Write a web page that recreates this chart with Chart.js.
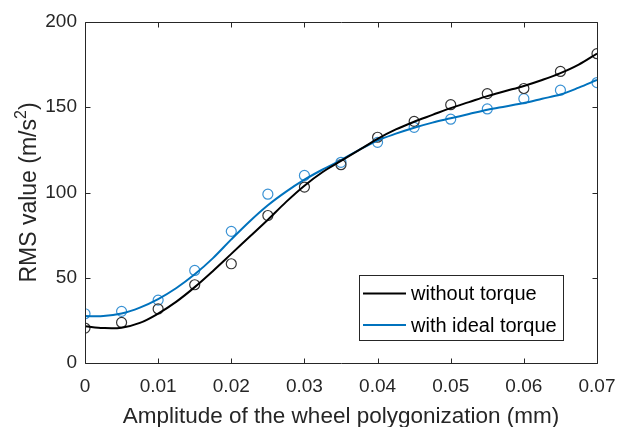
<!DOCTYPE html>
<html>
<head>
<meta charset="utf-8">
<script src="https://cdn.jsdelivr.net/npm/chart.js@4.4.0/dist/chart.umd.min.js"></script>
<style>
  html, body { margin: 0; padding: 0; background: #fff; }
  #wrap { width: 617px; height: 427px; }
</style>
</head>
<body>
<div id="wrap"><canvas id="c" width="617" height="427"></canvas></div>
<script>
// Measured RMS acceleration against polygonization amplitude
const amplitudes = [0, 0.005, 0.01, 0.015, 0.02, 0.025, 0.03, 0.035, 0.04, 0.045, 0.05, 0.055, 0.06, 0.065, 0.07];
const rmsWithoutTorque = [20.5, 23.8, 31.7, 45.9, 58.2, 86.5, 103.2, 116.3, 132.4, 141.7, 151.5, 158, 161, 171, 181.4];
const rmsIdealTorque   = [28.9, 30.3, 36.9, 54.3, 77.2, 99, 110, 117.7, 129.4, 138.2, 143, 149, 155, 160, 164.5];

// Fitted trend curves
const fitAmplitudes = [0, 0.0025, 0.005, 0.0075, 0.01, 0.0125, 0.015, 0.0175, 0.02, 0.0225, 0.025, 0.0275, 0.03, 0.0325, 0.035,
                       0.0375, 0.04, 0.0425, 0.045, 0.0475, 0.05, 0.0525, 0.055, 0.0575, 0.06, 0.0625, 0.065, 0.0675, 0.07];
const fitWithoutTorque = [21.5, 20.5, 20.7, 23.5, 29, 36, 44.5, 54, 64, 74, 84, 94.5, 104, 112, 118.5,
                          125, 131.5, 137, 141.5, 145.5, 149.5, 153, 156.5, 159.5, 162.5, 166, 170, 175, 181.5];
const fitIdealTorque   = [27.5, 27.5, 29, 32.5, 37.5, 44, 52, 61.5, 72.5, 83, 92.5, 100.5, 107.5, 113.5, 119,
                          125, 130.5, 134.5, 138, 141, 143.5, 146, 148.5, 150.5, 152.5, 155, 157.5, 161.5, 166];

const xTicks = [0, 0.01, 0.02, 0.03, 0.04, 0.05, 0.06, 0.07];
const yTicks = [0, 50, 100, 150, 200];
const seriesNames = ['without torque', 'with ideal torque'];
const xTitle = 'Amplitude of the wheel polygonization (mm)';
const yTitle = ['RMS value (m/s', '2', ')'];

const BLACK = '#000000';
const BLUE = '#0072BD';
const TEXT = '#262626';
const FONT = '"Liberation Sans", Arial, Helvetica, sans-serif';

const toPoints = (xs, ys) => xs.map((x, i) => ({ x: x, y: ys[i] }));

// Box frame, inward ticks on all four sides, axis titles and legend
const decorations = {
  id: 'decorations',
  afterDraw(chart) {
    const ctx = chart.ctx;
    const a = chart.chartArea;
    const xs = chart.scales.x, ys = chart.scales.y;
    const L = Math.round(a.left) + 0.5, R = Math.round(a.right) + 0.5;
    const T = Math.round(a.top) + 0.5, B = Math.round(a.bottom) + 0.5;
    const tl = 5;
    ctx.save();
    ctx.strokeStyle = TEXT;
    ctx.lineWidth = 1;
    ctx.beginPath();
    ctx.rect(L, T, R - L, B - T);
    xTicks.forEach(v => {
      const px = Math.round(xs.getPixelForValue(v)) + 0.5;
      ctx.moveTo(px, B); ctx.lineTo(px, B - tl);
      ctx.moveTo(px, T); ctx.lineTo(px, T + tl);
    });
    yTicks.forEach(v => {
      const py = Math.round(ys.getPixelForValue(v)) + 0.5;
      ctx.moveTo(L, py); ctx.lineTo(L + tl, py);
      ctx.moveTo(R, py); ctx.lineTo(R - tl, py);
    });
    ctx.stroke();

    // x axis title
    ctx.fillStyle = TEXT;
    ctx.font = '22.5px ' + FONT;
    ctx.textAlign = 'center';
    ctx.textBaseline = 'alphabetic';
    ctx.fillText(xTitle, (a.left + a.right) / 2, 423);

    // y axis title with superscript
    ctx.save();
    ctx.translate(36, (a.top + a.bottom) / 2);
    ctx.rotate(-Math.PI / 2);
    ctx.font = '23px ' + FONT;
    const w0 = ctx.measureText(yTitle[0]).width;
    const w2 = ctx.measureText(yTitle[2]).width;
    ctx.font = '16px ' + FONT;
    const w1 = ctx.measureText(yTitle[1]).width;
    let x0 = -(w0 + w1 + w2) / 2;
    ctx.textAlign = 'left';
    ctx.font = '23px ' + FONT;
    ctx.fillText(yTitle[0], x0, 0);
    ctx.font = '16px ' + FONT;
    ctx.fillText(yTitle[1], x0 + w0, -10);
    ctx.font = '23px ' + FONT;
    ctx.fillText(yTitle[2], x0 + w0 + w1, 0);
    ctx.restore();

    // legend
    const bx = 359.5, by = 275.5, bw = 204, bh = 65;
    ctx.fillStyle = '#ffffff';
    ctx.fillRect(bx, by, bw, bh);
    ctx.strokeStyle = TEXT;
    ctx.lineWidth = 1;
    ctx.strokeRect(bx, by, bw, bh);
    const rows = [{ c: BLACK, y: 293.5 }, { c: BLUE, y: 325 }];
    ctx.font = '20px ' + FONT;
    ctx.textAlign = 'left';
    ctx.textBaseline = 'middle';
    rows.forEach((r, i) => {
      ctx.strokeStyle = r.c;
      ctx.lineWidth = 2;
      ctx.beginPath();
      ctx.moveTo(363, r.y); ctx.lineTo(406, r.y);
      ctx.stroke();
      ctx.fillStyle = '#000000';
      ctx.fillText(seriesNames[i], 411, r.y + 1);
    });
    ctx.restore();
  }
};

new Chart(document.getElementById('c'), {
  type: 'scatter',
  data: {
    datasets: [
      {
        label: seriesNames[0] + ' (fit)',
        type: 'line',
        data: toPoints(fitAmplitudes, fitWithoutTorque),
        borderColor: BLACK, borderWidth: 2, pointRadius: 0, tension: 0.35, fill: false
      },
      {
        label: seriesNames[1] + ' (fit)',
        type: 'line',
        data: toPoints(fitAmplitudes, fitIdealTorque),
        borderColor: BLUE, borderWidth: 2, pointRadius: 0, tension: 0.35, fill: false
      },
      {
        label: seriesNames[0],
        data: toPoints(amplitudes, rmsWithoutTorque),
        borderColor: '#333333', backgroundColor: 'rgba(0,0,0,0)',
        pointRadius: 5, pointBorderWidth: 1.2, pointStyle: 'circle'
      },
      {
        label: seriesNames[1],
        data: toPoints(amplitudes, rmsIdealTorque),
        borderColor: '#3a92d4', backgroundColor: 'rgba(0,0,0,0)',
        pointRadius: 5, pointBorderWidth: 1.2, pointStyle: 'circle'
      }
    ]
  },
  options: {
    responsive: false,
    animation: false,
    devicePixelRatio: 1,
    layout: { padding: { left: 0, top: 22, right: 20, bottom: 0 } },
    plugins: { legend: { display: false }, tooltip: { enabled: false } },
    scales: {
      x: {
        type: 'linear', min: 0, max: 0.07,
        afterBuildTicks: s => { s.ticks = xTicks.map(v => ({ value: v })); },
        afterFit: s => { s.height = 64; s.paddingLeft = 0; s.paddingRight = 0; },
        grid: { display: false, drawTicks: false },
        border: { display: false },
        ticks: {
          color: TEXT, padding: 12, maxRotation: 0, autoSkip: false,
          font: { family: FONT, size: 19 },
          callback: v => (v === 0 ? '0' : v.toFixed(2))
        }
      },
      y: {
        type: 'linear', min: 0, max: 200,
        afterBuildTicks: s => { s.ticks = yTicks.map(v => ({ value: v })); },
        afterFit: s => { s.width = 85; s.paddingTop = 0; s.paddingBottom = 0; },
        grid: { display: false, drawTicks: false },
        border: { display: false },
        ticks: {
          color: TEXT, padding: 8,
          font: { family: FONT, size: 19 },
          callback: v => String(v)
        }
      }
    }
  },
  plugins: [decorations]
});
</script>
</body>
</html>
